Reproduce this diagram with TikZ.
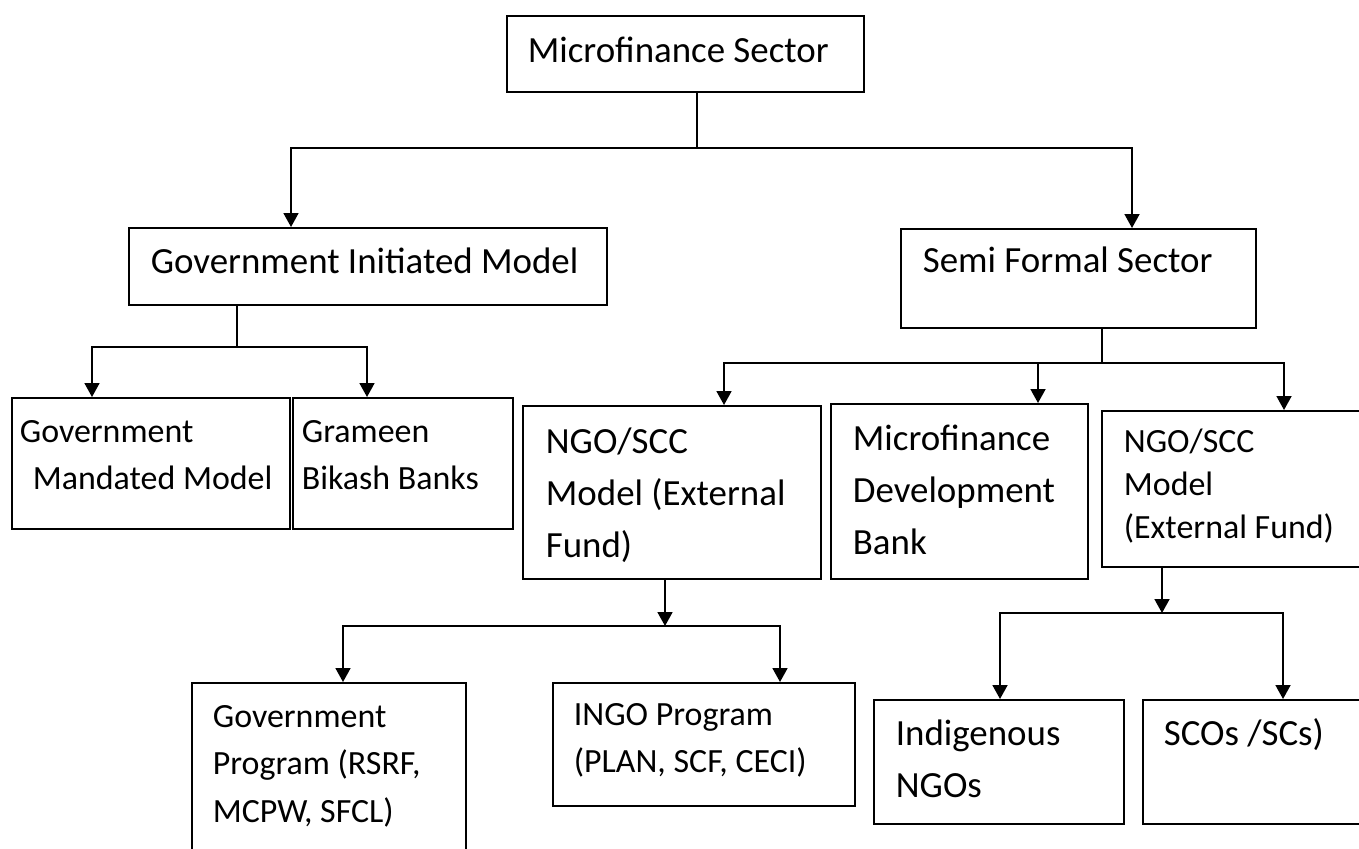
\documentclass[tikz,border=0pt]{standalone}
\usepackage{fontspec}
\setmainfont{Carlito}
\usepackage{tikz}
\usetikzlibrary{arrows.meta}

\newlength{\pxu}
\setlength{\pxu}{0.2mm}
\newcommand{\celltext}[5]{%
  \parbox[t][#2\pxu][t]{#1\pxu}{\hbox{}\vskip\dimexpr#4\pxu-\baselineskip\relax
    \raggedright\leftskip=#3\pxu\noindent #5}}

\tikzset{
  cell/.style={draw, anchor=north west, inner sep=0pt},
  bigtxt/.style={font=\fontsize{21}{29.6}\selectfont},
  smalltxt/.style={font=\fontsize{19.3}{26.8}\selectfont},
  tighttxt/.style={font=\fontsize{19.3}{24.5}\selectfont},
  arr/.style={-{Triangle[length=2.8mm,width=3mm]}}
}

\begin{document}
\begin{tikzpicture}[x=0.2mm, y=-0.2mm, line width=0.35mm]
  \useasboundingbox (0,0) rectangle (1359,848);
  \clip (0,0) rectangle (1359,848);

  \node[cell, bigtxt] (ms) at (506,15) {\celltext{357}{76}{21}{47}{Microfinance Sector}};
  \node[cell, bigtxt] (gim) at (128,227) {\celltext{478}{77}{22}{46}{Government Initiated Model}};
  \node[cell, bigtxt] (sfs) at (900,228) {\celltext{355}{99}{22}{44}{Semi Formal Sector}};
  \node[cell, smalltxt] (gmm) at (11,397) {\celltext{278}{131}{8}{45}{Government\\\hspace*{13\pxu}Mandated Model}};
  \node[cell, smalltxt] (gbb) at (292,397) {\celltext{220}{131}{9}{45}{Grameen\\Bikash Banks}};
  \node[cell, bigtxt] (ngo1) at (522,405) {\celltext{298}{173}{23}{48}{NGO/SCC\\Model (External\\Fund)}};
  \node[cell, bigtxt] (mdb) at (830,403) {\celltext{257}{175}{22}{47}{Microfinance\\Development\\Bank}};
  \node[cell, tighttxt] (ngo2) at (1101,410) {\celltext{300}{156}{22}{42}{NGO/SCC\\Model\\(External Fund)}};
  \node[cell, smalltxt] (gp) at (191,682) {\celltext{274}{200}{21}{45}{Government\\Program (RSRF,\\MCPW, SFCL)}};
  \node[cell, smalltxt] (ingo) at (552,682) {\celltext{302}{123}{21}{43}{INGO Program\\(PLAN, SCF, CECI)}};
  \node[cell, bigtxt] (ind) at (873,699) {\celltext{250}{124}{22}{46}{Indigenous\\NGOs}};
  \node[cell, bigtxt] (sco) at (1142,699) {\celltext{260}{124}{21}{46}{SCOs /SCs)}};

  \coordinate (j1) at (697,148);
  \coordinate (c1) at (291,0);
  \coordinate (c2) at (1132,0);
  \coordinate (j2) at (237,347);
  \coordinate (c3) at (92,0);
  \coordinate (c4) at (367,0);
  \coordinate (j3) at (1102,363);
  \coordinate (c5) at (724,0);
  \coordinate (c6) at (1038,0);
  \coordinate (c7) at (1284,0);
  \coordinate (j4) at (665,626);
  \coordinate (c8) at (343,0);
  \coordinate (c9) at (780,0);
  \coordinate (j5) at (1162,613);
  \coordinate (c10) at (1000,0);
  \coordinate (c11) at (1283,0);

  \draw (ms.south -| j1) -- (j1);
  \draw[arr] (j1) -| (gim.north -| c1);
  \draw[arr] (j1) -| (sfs.north -| c2);
  \draw (gim.south -| j2) -- (j2);
  \draw[arr] (j2) -| (gmm.north -| c3);
  \draw[arr] (j2) -| (gbb.north -| c4);
  \draw (sfs.south -| j3) -- (j3);
  \draw[arr] (j3) -| (ngo1.north -| c5);
  \draw[arr] (j3) -| (mdb.north -| c6);
  \draw[arr] (j3) -| (ngo2.north -| c7);
  \draw[arr] (ngo1.south -| j4) -- (j4);
  \draw[arr] (j4) -| (gp.north -| c8);
  \draw[arr] (j4) -| (ingo.north -| c9);
  \draw[arr] (ngo2.south -| j5) -- (j5);
  \draw[arr] (j5) -| (ind.north -| c10);
  \draw[arr] (j5) -| (sco.north -| c11);
\end{tikzpicture}
\end{document}
